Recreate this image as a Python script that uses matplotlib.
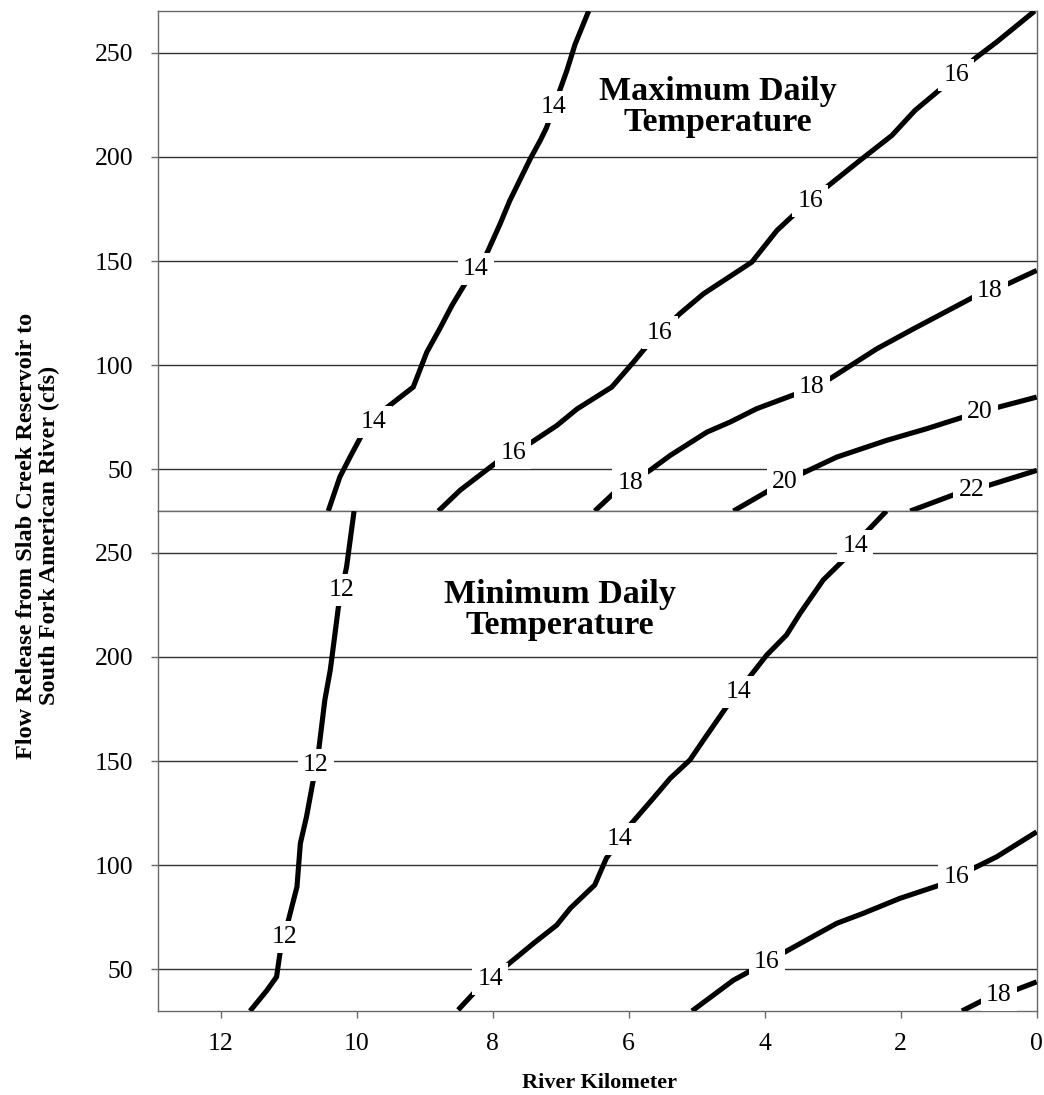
import numpy as np
import matplotlib
matplotlib.use("Agg")
import matplotlib.pyplot as plt

plt.rcParams["font.family"] = ["Liberation Serif", "DejaVu Serif"]

# ---- Maximum daily temperature isotherms (river km, flow release cfs) ----
max14_km = [6.59, 6.79, 6.91, 7.21, 7.30, 7.45, 7.75, 7.89, 8.09, 8.41, 8.60,
            8.78, 8.97, 9.17, 9.36, 9.58, 9.93, 10.10, 10.25, 10.42]
max14_cfs = [270, 254, 241.5, 214, 208, 199, 179, 168, 153.5, 139, 128.7,
             117.5, 106.3, 89.5, 84.7, 79.1, 66.3, 55.9, 46.3, 30]
max14_lab = [7.10, 8.25, 9.75]

max16_km = [8.80, 8.48, 7.94, 7.43, 7.06, 6.76, 6.25, 5.93, 5.69, 5.25, 4.90,
            4.19, 3.82, 3.53, 3.09, 2.60, 2.13, 1.79, 1.35, 0.91, 0.59, 0.03]
max16_cfs = [30, 40, 53.5, 63, 71, 79, 89.5, 101.5, 111, 124.7, 134.3,
             149.5, 164.7, 173.5, 185.5, 198.3, 210.3, 222.3, 234.3, 247.2, 255.1, 270]
max16_lab = [7.70, 5.54, 3.33, 1.18]

max18_km = [6.50, 6.23, 5.69, 5.39, 4.85, 4.51, 4.12, 3.53, 3.04, 2.35, 1.81,
            0.93, 0.42, 0.0]
max18_cfs = [30, 38.3, 49.5, 56.7, 67.9, 72.7, 79.1, 86.3, 93.5, 107.9, 117.5,
             132.7, 139.1, 145.5]
max18_lab = [5.98, 3.31, 0.69]

max20_km = [4.46, 3.92, 3.46, 2.94, 2.21, 1.62, 1.08, 0.56, 0.0]
max20_cfs = [30, 40.2, 47.9, 55.9, 63.9, 69.5, 75.1, 79.9, 84.7]
max20_lab = [3.70, 0.84]

max22_km = [1.86, 1.18, 0.71, 0.0]
max22_cfs = [30, 38.3, 42.3, 49.5]
max22_lab = [0.96]

# ---- Minimum daily temperature isotherms ----
min12_km = [10.04, 10.15, 10.27, 10.32, 10.39, 10.47, 10.56, 10.64, 10.74,
            10.83, 10.88, 10.98, 11.13, 11.18, 11.32, 11.57]
min12_cfs = [270, 243.3, 224.1, 211.3, 193.7, 179.3, 155.3, 140.9, 123.2,
             110.5, 89.6, 76.9, 57.7, 46.4, 40, 30]
min12_lab = [10.22, 10.60, 11.07]

min14_km = [8.51, 8.24, 7.79, 7.40, 7.06, 6.86, 6.50, 6.33, 5.98, 5.64, 5.39,
            5.10, 4.90, 4.56, 4.22, 3.97, 3.68, 3.48, 3.14, 2.84, 2.50, 2.21]
min14_cfs = [30.5, 40, 52, 62.5, 71.2, 79.3, 90.5, 103.3, 119.3, 132.1, 141.7,
             150.5, 160.1, 176.1, 190.5, 200.9, 210.5, 220.9, 236.9, 246.5, 260.1, 270]
min14_lab = [8.04, 6.13, 4.39, 2.67]

min16_km = [5.07, 4.46, 4.19, 3.70, 2.94, 2.55, 2.01, 1.42, 0.93, 0.59, 0.0]
min16_cfs = [30, 44.8, 49.6, 58.4, 72.1, 76.9, 84.1, 90.5, 98.5, 104, 116]
min16_lab = [3.97, 1.18]

min18_km = [1.10, 0.78, 0.32, 0.0]
min18_cfs = [30, 35.3, 40, 44]
min18_lab = [0.56]

y_ticks = [50, 100, 150, 200, 250]
x_ticks = [12, 10, 8, 6, 4, 2, 0]

panels = [
    ("Maximum Daily\nTemperature", (4.69, 224),
     [(14, max14_km, max14_cfs, max14_lab),
      (16, max16_km, max16_cfs, max16_lab),
      (18, max18_km, max18_cfs, max18_lab),
      (20, max20_km, max20_cfs, max20_lab),
      (22, max22_km, max22_cfs, max22_lab)]),
    ("Minimum Daily\nTemperature", (7.01, 222.5),
     [(12, min12_km, min12_cfs, min12_lab),
      (14, min14_km, min14_cfs, min14_lab),
      (16, min16_km, min16_cfs, min16_lab),
      (18, min18_km, min18_cfs, min18_lab)]),
]

fig = plt.figure(figsize=(10.44, 10.95), dpi=100)
left, width = 0.1516, 0.8414
h = 0.4566
ax_top = fig.add_axes([left, 0.5333, width, h])
ax_bot = fig.add_axes([left, 0.5333 - h, width, h])

spine_col = "#6a6a6a"
for ax, (title, tpos, lines) in zip([ax_top, ax_bot], panels):
    ax.set_xlim(12.92, 0)
    ax.set_ylim(30, 270)
    ax.set_yticks(y_ticks)
    ax.set_yticklabels([str(v) for v in y_ticks])
    ax.yaxis.grid(True, color="#303030", linewidth=1.0)
    ax.set_axisbelow(True)
    for s in ax.spines.values():
        s.set_color(spine_col)
        s.set_linewidth(1.0)
    ax.tick_params(axis="y", direction="out", length=5, width=1,
                   color=spine_col, pad=13, labelsize=18.5)
    for level, km, cfs, lab in lines:
        ax.plot(km, cfs, color="black", linewidth=3.7,
                solid_capstyle="butt", solid_joinstyle="miter", zorder=3)
        order = np.argsort(km)
        xs = np.asarray(km)[order]
        ys = np.asarray(cfs)[order]
        for lk in lab:
            ly = np.interp(lk, xs, ys)
            ax.text(lk, ly, str(level), ha="center", va="center",
                    fontsize=18.5, zorder=5,
                    bbox=dict(boxstyle="square,pad=0.2", fc="white", ec="none"))
    ax.text(tpos[0], tpos[1], title, ha="center", va="center",
            multialignment="center", fontsize=24.5, fontweight="bold",
            linespacing=0.98, zorder=6)

ax_top.tick_params(axis="x", bottom=False, labelbottom=False)
ax_bot.set_xticks(x_ticks)
ax_bot.set_xticklabels([str(v) for v in x_ticks])
ax_bot.tick_params(axis="x", direction="out", length=5, width=1,
                   color=spine_col, pad=11, labelsize=18.5)

fig.text(0.5743, 0.0112, "River Kilometer", ha="center", va="center",
         fontsize=16, fontweight="bold")
fig.text(0.0364, 0.511,
         "Flow Release from Slab Creek Reservoir to\nSouth Fork American River (cfs)",
         rotation=90, ha="center", va="center", multialignment="center",
         fontsize=17.5, fontweight="bold", linespacing=1.1)

fig.savefig("out.png", dpi=100)
